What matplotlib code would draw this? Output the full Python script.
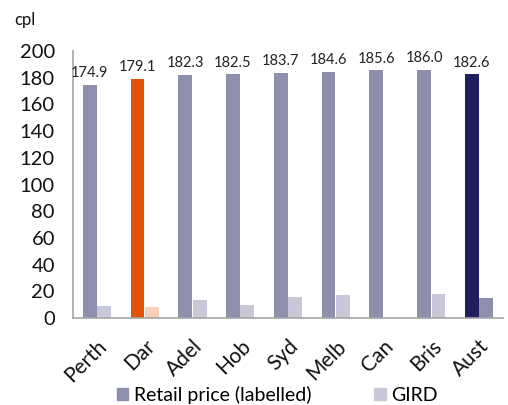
import numpy as np
import matplotlib
matplotlib.use('Agg')
from matplotlib import pyplot as plt
from matplotlib.patches import Patch

cities = ['Perth', 'Dar', 'Adel', 'Hob', 'Syd', 'Melb', 'Can', 'Bris', 'Aust']
retail = [174.9, 179.1, 182.3, 182.5, 183.7, 184.6, 185.6, 186.0, 182.6]
gird = [9, 8, 13.5, 10, 15.5, 17, 0, 18, 15]

retail_col = '#8E8FAD'
gird_col = '#C9C8D9'
retail_colors = [retail_col, '#E35205'] + [retail_col] * 6 + ['#201F5E']
gird_colors = [gird_col, '#F8CFB7'] + [gird_col] * 6 + [retail_col]

plt.rcParams['font.family'] = ['Lato', 'DejaVu Sans']

fig = plt.figure(figsize=(5.08, 4.05), dpi=100)
ax = fig.add_axes([0.1437, 0.2148, 0.8463, 0.6592])

x = np.arange(len(cities))
w = 0.29
ax.bar(x - 0.15, retail, w, color=retail_colors)
ax.bar(x + 0.15, gird, w, color=gird_colors)

for xi, v in zip(x, retail):
    ax.text(xi - 0.15, v + 3.5, '%.1f' % v, ha='center', va='bottom',
            fontsize=10.5, color='#222222')

ax.set_xlim(-0.5, len(cities) - 0.5)
ax.set_ylim(0, 200)
ax.set_yticks(np.arange(0, 201, 20))
ax.set_xticks(x)
ax.set_xticklabels(cities, rotation=45, ha='right', rotation_mode='anchor')
ax.tick_params(axis='both', length=0, colors='#111111')
ax.tick_params(axis='y', pad=13, labelsize=14.5)
ax.tick_params(axis='x', pad=13, labelsize=15)
for s in ['top', 'right']:
    ax.spines[s].set_visible(False)
for s in ['left', 'bottom']:
    ax.spines[s].set_color('#A6A6A6')
    ax.spines[s].set_linewidth(1.2)

fig.text(0.028, 0.95, 'cpl', fontsize=12, color='#111111', va='center')

handles = [Patch(color=retail_col, label='Retail price (labelled)'),
           Patch(color=gird_col, label='GIRD')]
fig.legend(handles=handles, loc='center', bbox_to_anchor=(0.546, 0.025),
           ncol=2, frameon=False, fontsize=14, columnspacing=3.2,
           handlelength=0.6, handleheight=0.6, handletextpad=0.3)

plt.savefig('out.png', dpi=100)
